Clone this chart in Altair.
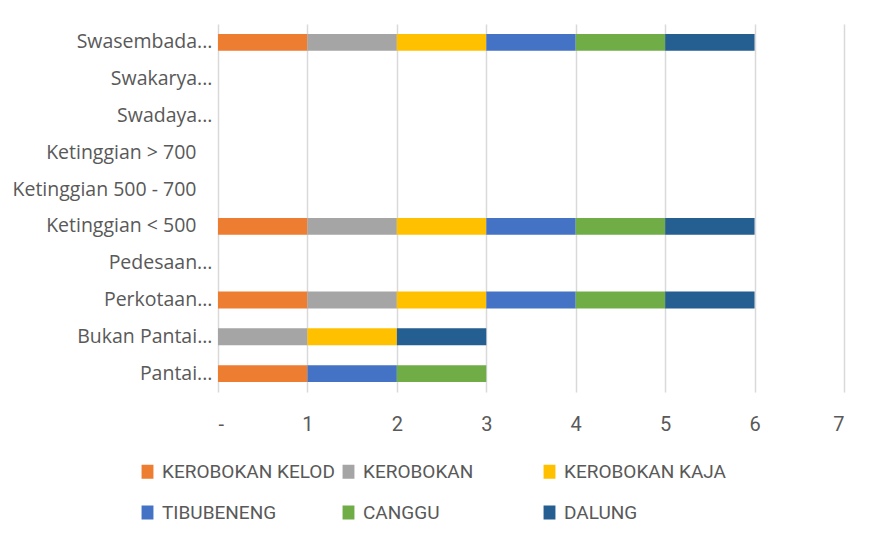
import altair as alt
import pandas as pd

categories = ["Swasembada...", "Swakarya...", "Swadaya...", "Ketinggian > 700",
              "Ketinggian 500 - 700", "Ketinggian < 500", "Pedesaan...",
              "Perkotaan...", "Bukan Pantai...", "Pantai..."]
series = ["KEROBOKAN KELOD", "KEROBOKAN", "KEROBOKAN KAJA", "TIBUBENENG", "CANGGU", "DALUNG"]
colors = ["#ED7D31", "#A5A5A5", "#FFC000", "#4472C4", "#70AD47", "#255E91"]

kerobokan_kelod = [1, 0, 0, 0, 0, 1, 0, 1, 0, 1]
kerobokan       = [1, 0, 0, 0, 0, 1, 0, 1, 1, 0]
kerobokan_kaja  = [1, 0, 0, 0, 0, 1, 0, 1, 1, 0]
tibubeneng      = [1, 0, 0, 0, 0, 1, 0, 1, 0, 1]
canggu          = [1, 0, 0, 0, 0, 1, 0, 1, 0, 1]
dalung          = [1, 0, 0, 0, 0, 1, 0, 1, 1, 0]
x_ticks = [0, 1, 2, 3, 4, 5, 6, 7]

values = [kerobokan_kelod, kerobokan, kerobokan_kaja, tibubeneng, canggu, dalung]
rows = []
for si, (name, vals) in enumerate(zip(series, values)):
    for c, v in zip(categories, vals):
        rows.append({"kategori": c, "desa": name, "urut": si, "nilai": v})
df = pd.DataFrame(rows)

y_pad = {"condition": {"test": "indexof(datum.value, 'Ketinggian') == 0", "value": 22},
         "value": 6}

chart = alt.Chart(df).transform_filter("datum.nilai > 0").mark_bar().encode(
    y=alt.Y("kategori:N",
            scale=alt.Scale(domain=categories, paddingInner=0.54, paddingOuter=0.27),
            axis=alt.Axis(title=None, ticks=False, domain=False, grid=False,
                          labelPadding=y_pad, labelLimit=0,
                          labelFont="Open Sans", labelFontSize=19.5,
                          labelColor="#595959")),
    x=alt.X("nilai:Q", stack="zero",
            scale=alt.Scale(domain=[0, 7], nice=False),
            axis=alt.Axis(title=None, values=x_ticks, ticks=False, domain=False,
                          grid=True, gridColor="#D9D9D9", gridWidth=1.5,
                          labelExpr="datum.value == 0 ? '-' : datum.label",
                          labelPadding=22, labelFont="Roboto",
                          labelFontSize=20, labelColor="#595959")),
    color=alt.Color("desa:N", scale=alt.Scale(domain=series, range=colors),
                    legend=alt.Legend(title=None, orient="none", legendX=-80, legendY=438,
                                      direction="horizontal",
                                      columns=3, gridAlign="all", columnPadding=4,
                                      rowPadding=21, padding=0,
                                      symbolType="M-0.85,-1H0.85V1H-0.85Z",
                                      symbolSize=196, symbolStrokeWidth=0,
                                      labelOffset=5, labelFont="Roboto",
                                      labelFontSize=19, labelColor="#595959",
                                      labelLimit=0)),
    order=alt.Order("urut:Q"),
).properties(
    width=626, height=368,
    background="white",
    autosize=alt.AutoSizeParams(type="none"),
    padding={"left": 210, "top": 16, "right": 20, "bottom": 140},
).configure_view(stroke=None)

chart.save("out.html", embed_options={"renderer": "svg", "actions": False})
